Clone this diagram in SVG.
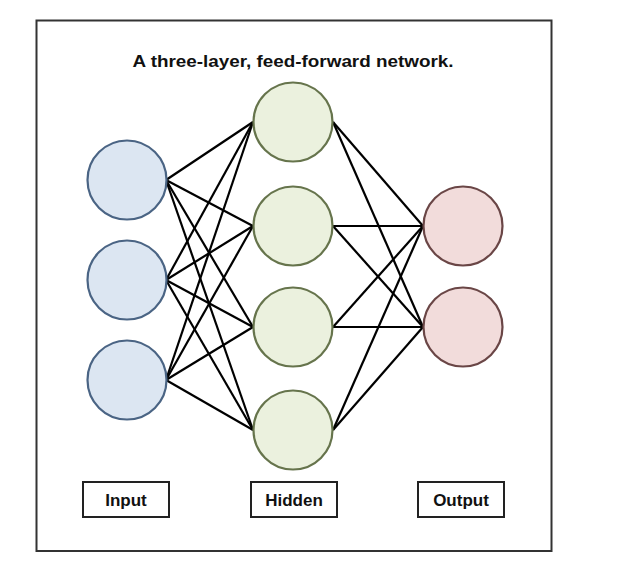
<svg xmlns="http://www.w3.org/2000/svg" width="626" height="586" viewBox="0 0 626 586">
  <style>
    .frame { fill: #ffffff; stroke: #333333; stroke-width: 2; }
    .in { fill: #dce6f2; stroke: #4a6484; stroke-width: 2.2; }
    .hid { fill: #ebf1de; stroke: #66744c; stroke-width: 2.2; }
    .out { fill: #f2dcdb; stroke: #6a4646; stroke-width: 2.2; }
    .edge { stroke: #000000; stroke-width: 2.2; fill: none; }
    .lbl { fill: #ffffff; stroke: #222222; stroke-width: 2; }
    .t { font-family: "Liberation Sans", Arial, sans-serif; font-weight: bold; fill: #111111; text-anchor: middle; }
  </style>
  <rect width="626" height="586" fill="#ffffff"/>
  <rect class="frame" x="36.5" y="20.5" width="515" height="530.5"/>
  <text class="t" x="293" y="67" font-size="17" textLength="321" lengthAdjust="spacingAndGlyphs">A three-layer, feed-forward network.</text>

  <g id="connectors">
    <line class="edge" x1="166" y1="180" x2="253" y2="122"/>
    <line class="edge" x1="166" y1="180" x2="253" y2="226"/>
    <line class="edge" x1="166" y1="180" x2="253" y2="327"/>
    <line class="edge" x1="166" y1="180" x2="253" y2="430"/>
    <line class="edge" x1="166" y1="280" x2="253" y2="122"/>
    <line class="edge" x1="166" y1="280" x2="253" y2="226"/>
    <line class="edge" x1="166" y1="280" x2="253" y2="327"/>
    <line class="edge" x1="166" y1="280" x2="253" y2="430"/>
    <line class="edge" x1="166" y1="380" x2="253" y2="122"/>
    <line class="edge" x1="166" y1="380" x2="253" y2="226"/>
    <line class="edge" x1="166" y1="380" x2="253" y2="327"/>
    <line class="edge" x1="166" y1="380" x2="253" y2="430"/>
    <line class="edge" x1="333" y1="122" x2="423" y2="226"/>
    <line class="edge" x1="333" y1="122" x2="423" y2="327"/>
    <line class="edge" x1="333" y1="226" x2="423" y2="226"/>
    <line class="edge" x1="333" y1="226" x2="423" y2="327"/>
    <line class="edge" x1="333" y1="327" x2="423" y2="226"/>
    <line class="edge" x1="333" y1="327" x2="423" y2="327"/>
    <line class="edge" x1="333" y1="430" x2="423" y2="226"/>
    <line class="edge" x1="333" y1="430" x2="423" y2="327"/>
  </g>

  <g id="input1"><circle class="in" cx="127" cy="180" r="39.5"/></g>
  <g id="input2"><circle class="in" cx="127" cy="280" r="39.5"/></g>
  <g id="input3"><circle class="in" cx="127" cy="380" r="39.5"/></g>

  <g id="hidden1"><circle class="hid" cx="293" cy="122" r="39.5"/></g>
  <g id="hidden2"><circle class="hid" cx="293" cy="226" r="39.5"/></g>
  <g id="hidden3"><circle class="hid" cx="293" cy="327" r="39.5"/></g>
  <g id="hidden4"><circle class="hid" cx="293" cy="430" r="39.5"/></g>

  <g id="output1"><circle class="out" cx="463" cy="226" r="39.5"/></g>
  <g id="output2"><circle class="out" cx="463" cy="327" r="39.5"/></g>

  <g id="label-input">
    <rect class="lbl" x="83" y="482" width="86" height="35"/>
    <text class="t" x="126" y="506" font-size="17">Input</text>
  </g>
  <g id="label-hidden">
    <rect class="lbl" x="251" y="482" width="86" height="35"/>
    <text class="t" x="294" y="506" font-size="17">Hidden</text>
  </g>
  <g id="label-output">
    <rect class="lbl" x="418" y="482" width="86" height="35"/>
    <text class="t" x="461" y="506" font-size="17">Output</text>
  </g>
</svg>
